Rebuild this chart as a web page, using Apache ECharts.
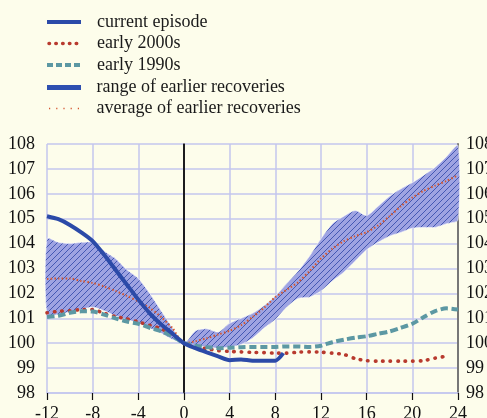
<!DOCTYPE html>
<html>
<head>
<meta charset="utf-8">
<script src="https://cdn.jsdelivr.net/npm/echarts@6/dist/echarts.min.js"></script>
<style>
html,body{margin:0;padding:0;background:#fdfdeb;}
#chart{width:487px;height:418px;}
</style>
</head>
<body>
<div id="chart"></div>
<script>
// ---- data (months relative to trough, index = 100 at trough) ----
const months = [-12,-11,-10,-9,-8,-7,-6,-5,-4,-3,-2,-1,0,1,2,3,4,5,6,7,8,9,10,11,12,13,14,15,16,17,18,19,20,21,22,23,24];
const currentX = [-12,-11,-10,-9,-8,-7,-6,-5,-4,-3,-2,-1,0,1,2,3,4,5,6,7,8,8.7];
const currentY = [105.1,104.98,104.75,104.45,104.1,103.55,102.95,102.35,101.75,101.2,100.75,100.38,100.0,99.8,99.63,99.47,99.32,99.35,99.3,99.3,99.3,99.6];
const early2000s = [101.22,101.28,101.3,101.35,101.35,101.2,101.07,100.98,100.85,100.72,100.58,100.35,100.0,99.85,99.78,99.7,99.67,99.65,99.63,99.62,99.6,99.6,99.64,99.65,99.64,99.6,99.55,99.38,99.3,99.28,99.28,99.28,99.28,99.3,99.4,99.48];
const early1990s = [101.05,101.1,101.22,101.28,101.27,101.15,101.0,100.87,100.78,100.62,100.48,100.28,100.0,99.9,99.84,99.8,99.82,99.84,99.85,99.85,99.85,99.87,99.87,99.85,99.9,100.04,100.14,100.22,100.28,100.38,100.47,100.62,100.78,101.05,101.29,101.4,101.35];
const rangeUpper = [104.2,104.05,104.0,104.05,104.05,103.7,103.4,102.95,102.6,102.0,101.3,100.6,100.0,100.5,100.58,100.45,100.8,101.0,101.2,101.5,101.9,102.4,102.9,103.5,104.2,104.8,105.1,105.33,105.13,105.5,105.9,106.2,106.45,106.75,107.07,107.5,107.94];
const rangeLower = [101.15,101.15,101.25,101.35,101.45,101.3,101.1,100.95,100.8,100.6,100.4,100.15,100.0,99.9,99.85,99.8,99.85,99.95,100.2,100.6,100.95,101.45,101.8,101.85,102.1,102.5,102.85,103.3,103.75,104.05,104.3,104.45,104.62,104.65,104.65,104.8,104.95];
const average = [102.58,102.6,102.6,102.5,102.42,102.28,102.1,101.9,101.68,101.42,101.05,100.6,100.0,100.08,100.2,100.35,100.5,100.72,101.05,101.42,101.85,102.15,102.45,102.9,103.4,103.8,104.1,104.3,104.46,104.73,105.1,105.5,105.85,106.12,106.33,106.52,106.75];
const xTicks = [-12,-8,-4,0,4,8,12,16,20,24];
const yTicks = [98,99,100,101,102,103,104,105,106,107,108];
const legendNames = ['current episode','early 2000s','early 1990s','range of earlier recoveries','average of earlier recoveries'];

const zip = (xs, ys) => ys.map((v, i) => [xs[i], v]);

// hatch pattern
const pc = document.createElement('canvas');
pc.width = 6; pc.height = 6;
const g = pc.getContext('2d');
g.fillStyle = '#9ea3e2';
g.fillRect(0,0,6,6);
g.strokeStyle = '#3a4fae';
g.lineWidth = 0.9;
g.beginPath();
g.moveTo(0,6); g.lineTo(6,0);
g.moveTo(-3,3); g.lineTo(3,-3);
g.moveTo(3,9); g.lineTo(9,3);
g.stroke();
const hatch = { image: pc, repeat: 'repeat' };

const chart = echarts.init(document.getElementById('chart'), null, {renderer:'canvas'});
const FONT = '"Liberation Serif", "Times New Roman", serif';
const GRIDC = '#c3c6ee';

const lx1 = 47, lx2 = 81, tx = 97;
const rows = [22, 43.5, 65, 87.5, 108.5];
const graphics = [
  {type:'line', shape:{x1:lx1,y1:rows[0],x2:lx2,y2:rows[0]}, style:{stroke:'#2b4aa8', lineWidth:4}},
  {type:'line', shape:{x1:lx1+2,y1:rows[1],x2:lx2,y2:rows[1]}, style:{stroke:'#b83a2e', lineWidth:3.5, lineDash:[0.5,6.3], lineCap:'round'}},
  {type:'line', shape:{x1:lx1,y1:rows[2],x2:lx2,y2:rows[2]}, style:{stroke:'#5c98a3', lineWidth:4, lineDash:[6,3]}},
  {type:'rect', shape:{x:lx1,y:rows[3]-2.5,width:lx2-lx1,height:5}, style:{fill:'#2e4fb0'}},
  {type:'line', shape:{x1:lx1+2,y1:rows[4],x2:lx2,y2:rows[4]}, style:{stroke:'#d4552f', lineWidth:1.6, lineDash:[1.2,6]}}
];
legendNames.forEach((n, i) => {
  graphics.push({type:'text', x: (i >= 3 ? tx - 0.5 : tx), y: rows[i], style:{text:n, font:'18px ' + FONT, fill:'#1a1a1a', verticalAlign:'middle'}});
});

const lineCommon = {type:'line', showSymbol:false, smooth:0.25, silent:true};

chart.setOption({
  animation:false,
  backgroundColor:'#fdfdeb',
  grid:{left:47, right:29, top:144, bottom:25, outerBoundsMode:'none', containLabel:false},
  graphic: graphics,
  xAxis:{
    type:'value', min:-12, max:24, interval:4,
    axisLine:{show:true, onZero:false, lineStyle:{color:GRIDC, width:1.5}},
    axisTick:{show:true, length:7, lineStyle:{color:'#111', width:1.2}},
    axisLabel:{fontFamily:FONT, fontSize:18, color:'#111', margin:12,
      formatter: v => xTicks.includes(v) ? String(v) : ''},
    splitLine:{show:true, lineStyle:{color:GRIDC, width:1.5}}
  },
  yAxis:[{
    type:'value', min:98, max:108, interval:1, position:'left',
    axisLine:{show:true, lineStyle:{color:'#111', width:1.5}},
    axisTick:{show:false},
    axisLabel:{fontFamily:FONT, fontSize:18, color:'#111', margin:12,
      formatter: v => yTicks.includes(v) ? String(v) : ''},
    splitLine:{show:true, lineStyle:{color:GRIDC, width:1.5}}
  },{
    type:'value', min:98, max:108, interval:1, position:'right',
    axisLine:{show:true, lineStyle:{color:'#777', width:2}},
    axisTick:{show:false},
    axisLabel:{fontFamily:FONT, fontSize:18, color:'#111', margin:8,
      formatter: v => yTicks.includes(v) ? String(v) : ''},
    splitLine:{show:false}
  }],
  series:[
    {
      type:'custom', name:'range of earlier recoveries', silent:true,
      data:[[0,100]],
      renderItem:(params, api) => {
        const pts = [];
        months.forEach((m,i) => pts.push(api.coord([m, rangeUpper[i]])));
        for (let i = months.length-1; i >= 0; i--) pts.push(api.coord([months[i], rangeLower[i]]));
        return {type:'polygon', shape:{points:pts, smooth:0.25}, style:{fill:hatch, stroke:'#ffffff', lineWidth:0.6}};
      },
      z:1
    },
    Object.assign({}, lineCommon, {name:'average of earlier recoveries', data:zip(months, average),
      lineStyle:{color:'#d4552f', width:2, type:[1.5,2.2]}, z:3}),
    Object.assign({}, lineCommon, {name:'early 2000s', data:zip(months, early2000s),
      lineStyle:{color:'#b83a2e', width:3.6, type:[0.5,7], cap:'round'}, z:4}),
    Object.assign({}, lineCommon, {name:'early 1990s', data:zip(months, early1990s),
      lineStyle:{color:'#5c98a3', width:4, type:[7.5,3.5]}, z:5}),
    Object.assign({}, lineCommon, {name:'current episode', data:zip(currentX, currentY),
      lineStyle:{color:'#2b4aa8', width:4}, z:6,
      markLine:{silent:true, symbol:['none','none'], label:{show:false},
        lineStyle:{color:'#111', width:1.5, type:'solid'}, data:[{xAxis:0}]}})
  ]
});
</script>
</body>
</html>
